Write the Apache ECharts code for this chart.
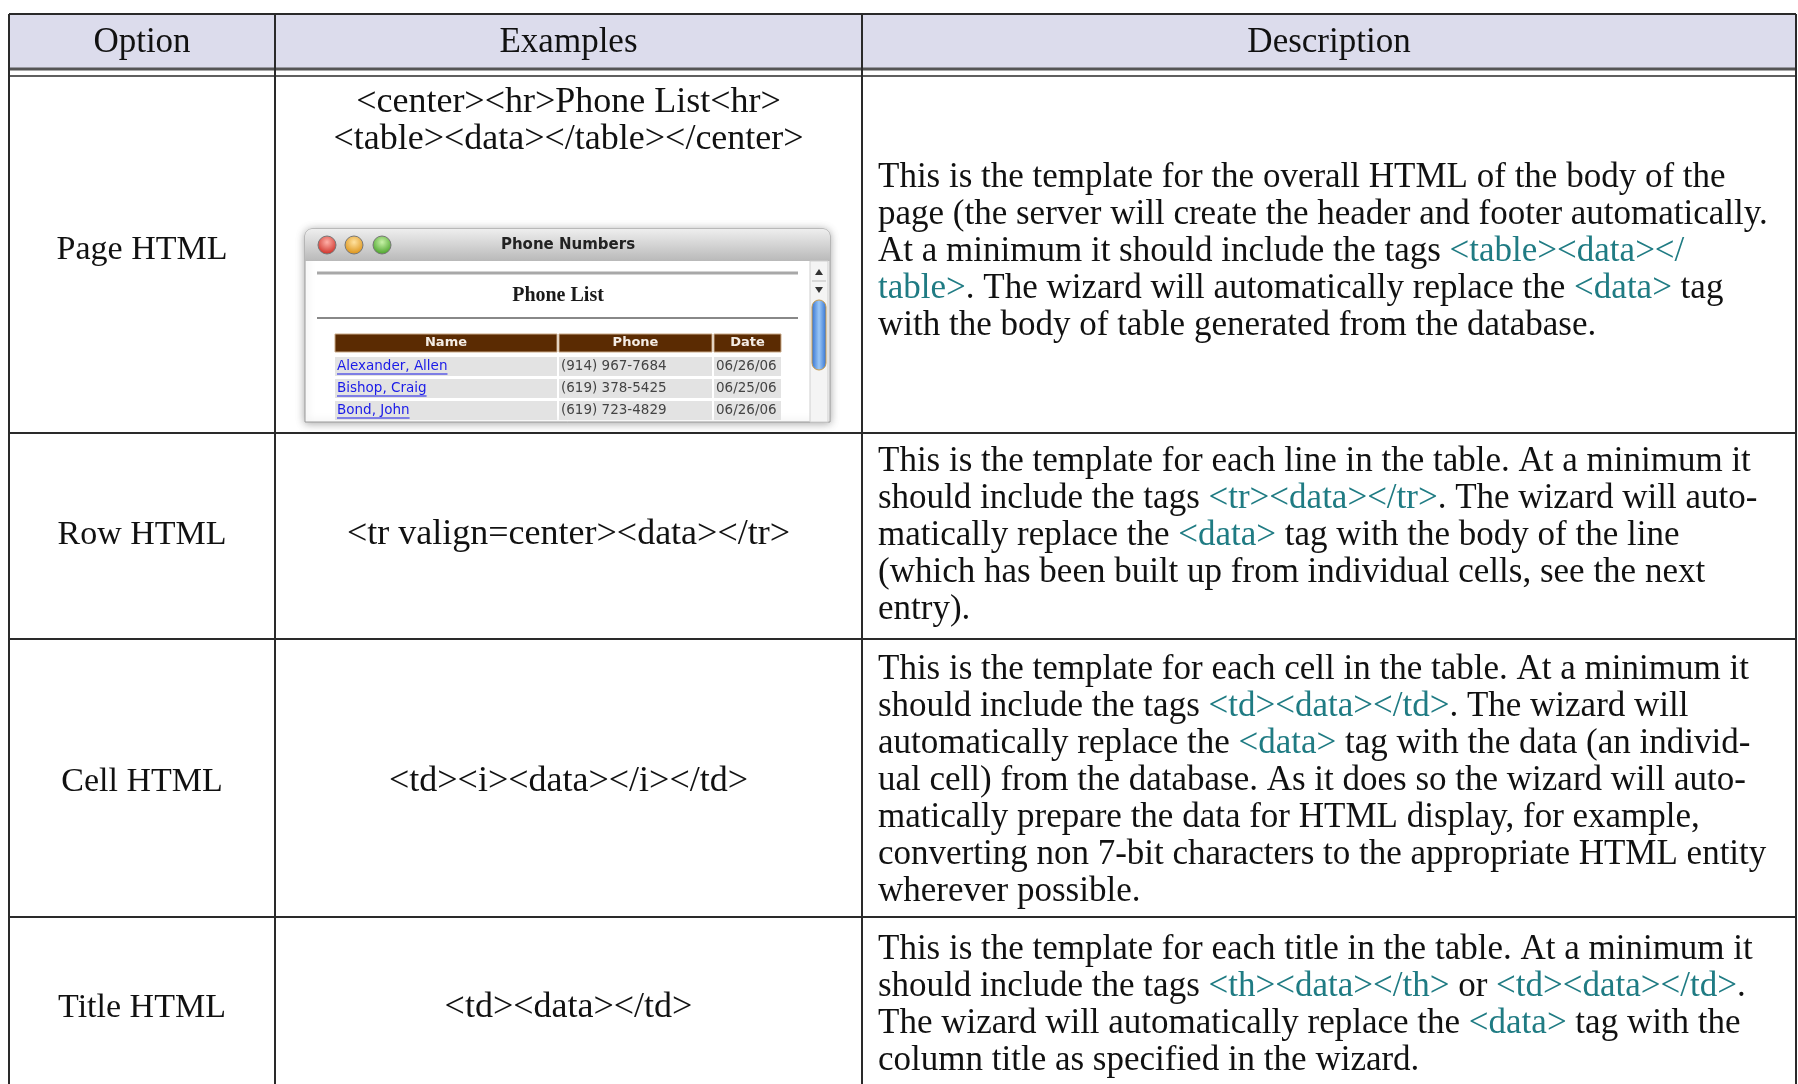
<!DOCTYPE html>
<html><head><meta charset="utf-8">
<script src="https://cdn.jsdelivr.net/npm/echarts@6/dist/echarts.min.js"></script>
<style>html,body{margin:0;padding:0;background:#fff}#c{width:1798px;height:1084px}</style>
</head><body><div id="c"></div>
<script>
// ---------------- data ----------------
const headers = ['Option', 'Examples', 'Description'];
const options = ['Page HTML', 'Row HTML', 'Cell HTML', 'Title HTML'];
const examples = [
  ['<center><hr>Phone List<hr>', '<table><data></table></center>'],
  ['<tr valign=center><data></tr>'],
  ['<td><i><data></i></td>'],
  ['<td><data></td>']
];
const descPage = [
  'This is the template for the overall HTML of the body of the',
  'page (the server will create the header and footer automatically.',
  'At a minimum it should include the tags {t|<table><data></}',
  '{t|table>}. The wizard will automatically replace the {t|<data>} tag',
  'with the body of table generated from the database.'
];
const descRow = [
  'This is the template for each line in the table. At a minimum it',
  'should include the tags {t|<tr><data></tr>}. The wizard will auto-',
  'matically replace the {t|<data>} tag with the body of the line',
  '(which has been built up from individual cells, see the next',
  'entry).'
];
const descCell = [
  'This is the template for each cell in the table. At a minimum it',
  'should include the tags {t|<td><data></td>}. The wizard will',
  'automatically replace the {t|<data>} tag with the data (an individ-',
  'ual cell) from the database. As it does so the wizard will auto-',
  'matically prepare the data for HTML display, for example,',
  'converting non 7-bit characters to the appropriate HTML entity',
  'wherever possible.'
];
const descTitle = [
  'This is the template for each title in the table. At a minimum it',
  'should include the tags {t|<th><data></th>} or {t|<td><data></td>}.',
  'The wizard will automatically replace the {t|<data>} tag with the',
  'column title as specified in the wizard.'
];
const descriptions = [descPage, descRow, descCell, descTitle];

// screenshot content
const windowTitle = 'Phone Numbers';
const pageHeading = 'Phone List';
const phoneHeaders = ['Name', 'Phone', 'Date'];
const phoneNames = ['Alexander, Allen', 'Bishop, Craig', 'Bond, John'];
const phoneNumbers = ['(914) 967-7684', '(619) 378-5425', '(619) 723-4829'];
const phoneDates = ['06/26/06', '06/25/06', '06/26/06'];

// ---------------- layout / style ----------------
const L = {
  cols: [9, 275, 862, 1796],
  top: 14, headGray: 69, headThin: 76,
  rowBottoms: [433, 639, 917, 1095],
  lineGap: 37, descPad: 16,
  optOffset: [-4, -1, 4, 2],
  descOffset: [-3, 0, 3, -1],
  firstExTop: 27, exGap: 37,
  shot: { x0: 305, x1: 830, y0: 229, y1: 422, barH: 32,
          tx: [335, 558, 713, 782], headY: 334, headH: 18, rowY: 357, rowH: 19, rowStep: 22 }
};
const SERIF = '"Liberation Serif", "Times New Roman", serif';
const FONT_HEAD = '35px ' + SERIF;
const FONT_OPT = '34px ' + SERIF;
const FONT_EX = '36px ' + SERIF;
const FONT_DESC = '35px ' + SERIF;
const TEAL = '#1f7b83';
const INK = '#111';
const RULE = '#2a2a2a';
const HEAD_BG = '#dcdcec';

const measureCtx = document.createElement('canvas').getContext('2d');
function textW(font, s) { measureCtx.font = font; return measureCtx.measureText(s).width; }

function T(x, y, text, font, fill, align, extra) {
  return Object.assign({
    type: 'text', x: x, y: y,
    style: { text: text, font: font, fill: fill || INK,
      align: align || 'center', verticalAlign: 'middle',
      textAlign: align || 'center', textVerticalAlign: 'middle' }
  }, extra || {});
}
function Ln(x1, y1, x2, y2, stroke, w) {
  return { type: 'line', shape: { x1: x1, y1: y1, x2: x2, y2: y2 }, style: { stroke: stroke, lineWidth: w } };
}

function rowTop(i) { return i === 0 ? L.headThin : L.rowBottoms[i - 1]; }

function renderHeader(params, api) {
  const j = api.value(0);
  const a = api.coord([L.cols[j], L.top]);
  const b = api.coord([L.cols[j + 1], L.headGray]);
  const t2 = api.coord([0, L.headThin])[1];
  const ch = [];
  ch.push({ type: 'rect', shape: { x: a[0], y: a[1], width: b[0] - a[0], height: b[1] - a[1] }, style: { fill: HEAD_BG } });
  ch.push(T((a[0] + b[0]) / 2, (a[1] + b[1]) / 2 + 1, headers[j], FONT_HEAD, INK));
  ch.push(Ln(a[0], a[1], b[0], a[1], RULE, 2));
  ch.push(Ln(a[0], b[1], b[0], b[1], '#555', 3));
  ch.push(Ln(a[0], t2, b[0], t2, RULE, 1.5));
  ch.push(Ln(a[0], a[1], a[0], t2, RULE, 2));
  if (j === headers.length - 1) ch.push(Ln(b[0], a[1], b[0], t2, RULE, 2));
  return { type: 'group', children: ch };
}

function renderRow(params, api) {
  const i = api.value(0);
  const top = api.coord([0, rowTop(i)])[1];
  const bot = api.coord([0, L.rowBottoms[i]])[1];
  const xs = L.cols.map(c => api.coord([c, 0])[0]);
  const mid = (top + bot) / 2;
  const om = mid + L.optOffset[i];
  const dm = mid + L.descOffset[i];
  const ch = [];
  ch.push(Ln(xs[0], bot, xs[3], bot, RULE, 2));
  xs.forEach(x => ch.push(Ln(x, top, x, bot, RULE, 2)));
  // option
  ch.push(T((xs[0] + xs[1]) / 2, om, options[i], FONT_OPT, INK));
  // examples
  const ex = examples[i];
  const exX = (xs[1] + xs[2]) / 2;
  if (i === 0) {
    ex.forEach((s, k) => ch.push(T(exX, top + L.firstExTop + k * L.exGap, s, FONT_EX, INK)));
  } else {
    ex.forEach((s, k) => ch.push(T(exX, om + (k - (ex.length - 1) / 2) * L.exGap, s, FONT_EX, INK)));
  }
  // description
  const d = descriptions[i];
  const dx = xs[2] + L.descPad;
  d.forEach((s, k) => {
    const el = T(dx, dm + (k - (d.length - 1) / 2) * L.lineGap, s, FONT_DESC, INK, 'left');
    el.style.rich = { t: { fill: TEAL, font: FONT_DESC } };
    ch.push(el);
  });
  return { type: 'group', children: ch };
}

const S = L.shot;
const SANS = '"DejaVu Sans", Verdana, sans-serif';
function renderPhoneHead(params, api) {
  const j = api.value(0);
  const a = api.coord([S.tx[j] + (j ? 1 : 0), S.headY]);
  const b = api.coord([S.tx[j + 1] - 1, S.headY + S.headH]);
  return { type: 'group', children: [
    { type: 'rect', shape: { x: a[0], y: a[1], width: b[0] - a[0], height: b[1] - a[1] },
      style: { fill: '#5b2b02', stroke: '#c9a987', lineWidth: 1 } },
    T((a[0] + b[0]) / 2, (a[1] + b[1]) / 2, phoneHeaders[j], 'bold 13px ' + SANS, '#f4ece4')
  ] };
}
function renderPhoneRow(params, api) {
  const i = api.value(0);
  const y = S.rowY + i * S.rowStep;
  const ch = [];
  for (let j = 0; j < 3; j++) {
    const a = api.coord([S.tx[j] + (j ? 1 : 0), y]);
    const b = api.coord([S.tx[j + 1] - 1, y + S.rowH]);
    ch.push({ type: 'rect', shape: { x: a[0], y: a[1], width: b[0] - a[0], height: b[1] - a[1] }, style: { fill: '#e3e3e3' } });
  }
  const cy = api.coord([0, y + S.rowH / 2])[1];
  const f = '13.5px ' + SANS;
  const nx = api.coord([S.tx[0] + 2, 0])[0];
  ch.push(T(nx, cy, phoneNames[i], f, '#1a1ae8', 'left'));
  const w = textW(f, phoneNames[i]);
  ch.push(Ln(nx, cy + 7.5, nx + w, cy + 7.5, '#1a1ae8', 1.2));
  ch.push(T(api.coord([S.tx[1] + 3, 0])[0], cy, phoneNumbers[i], f, '#444', 'left'));
  ch.push(T(api.coord([S.tx[2] + 3, 0])[0], cy, phoneDates[i], f, '#444', 'left'));
  return { type: 'group', children: ch };
}

function light(cx, c1, c2) {
  return { type: 'circle', shape: { cx: cx, cy: S.y0 + 16, r: 9 },
    style: { fill: new echarts.graphic.RadialGradient(0.5, 0.35, 0.7, [{ offset: 0, color: c1 }, { offset: 1, color: c2 }]),
      stroke: '#777', lineWidth: 1 } };
}

const chrome = [
  { type: 'rect', shape: { x: S.x0, y: S.y0, width: S.x1 - S.x0, height: S.y1 - S.y0, r: [7, 7, 0, 0] },
    style: { fill: '#fff', stroke: '#9a9a9a', lineWidth: 1, shadowBlur: 8, shadowColor: 'rgba(0,0,0,0.35)', shadowOffsetY: 1 } },
  { type: 'rect', shape: { x: S.x0, y: S.y0, width: S.x1 - S.x0, height: S.barH, r: [7, 7, 0, 0] },
    style: { fill: new echarts.graphic.LinearGradient(0, 0, 0, 1, [{ offset: 0, color: '#eeeeee' }, { offset: 1, color: '#b9b9b9' }]) } },
  light(327, '#ffb0a8', '#c8231a'),
  light(354, '#ffe2a0', '#d88a08'),
  light(382, '#c8f2a8', '#3c9a1c'),
  { type: 'text', x: 568, y: S.y0 + 16, style: { text: windowTitle, font: 'bold 15px ' + SANS, fill: '#222', align: 'center', verticalAlign: 'middle' } },
  // scrollbar
  { type: 'rect', shape: { x: 810, y: S.y0 + S.barH, width: 18, height: S.y1 - S.y0 - S.barH }, style: { fill: '#f4f4f4', stroke: '#cfcfcf', lineWidth: 1 } },
  { type: 'polygon', shape: { points: [[819, 269], [815, 275], [823, 275]] }, style: { fill: '#333' } },
  { type: 'polygon', shape: { points: [[815, 287], [823, 287], [819, 293]] }, style: { fill: '#333' } },
  { type: 'line', shape: { x1: 812, y1: 281, x2: 826, y2: 281 }, style: { stroke: '#bbb', lineWidth: 1 } },
  { type: 'rect', shape: { x: 812, y: 300, width: 14, height: 70, r: 7 },
    style: { fill: new echarts.graphic.LinearGradient(0, 0, 1, 0, [{ offset: 0, color: '#2f6fd0' }, { offset: 0.5, color: '#9cc8f6' }, { offset: 1, color: '#2f6fd0' }]), stroke: '#c79a4a', lineWidth: 1 } },
  // page content
  { type: 'line', shape: { x1: 317, y1: 273, x2: 798, y2: 273 }, style: { stroke: '#a8a8a8', lineWidth: 3 } },
  { type: 'text', x: 558, y: 296, style: { text: pageHeading, font: 'bold 20px ' + SERIF, fill: '#1a1a1a', align: 'center', verticalAlign: 'middle' } },
  { type: 'line', shape: { x1: 317, y1: 318, x2: 798, y2: 318 }, style: { stroke: '#888', lineWidth: 2 } }
];

const chart = echarts.init(document.getElementById('c'));
chart.setOption({
  animation: false,
  backgroundColor: '#fff',
  grid: { left: 0, right: 0, top: 0, bottom: 0 },
  xAxis: { type: 'value', min: 0, max: 1798, show: false },
  yAxis: { type: 'value', min: 0, max: 1084, inverse: true, show: false },
  graphic: { elements: chrome.map(e => Object.assign({ z: 5 }, e)) },
  series: [
    { type: 'custom', silent: true, data: headers.map((h, j) => [j, 0]), renderItem: renderHeader },
    { type: 'custom', silent: true, data: options.map((o, i) => [i, 0]), renderItem: renderRow },
    { type: 'custom', silent: true, z: 10, data: phoneHeaders.map((h, j) => [j, 0]), renderItem: renderPhoneHead },
    { type: 'custom', silent: true, z: 10, data: phoneNames.map((n, i) => [i, 0]), renderItem: renderPhoneRow }
  ]
});
</script>
</body></html>
